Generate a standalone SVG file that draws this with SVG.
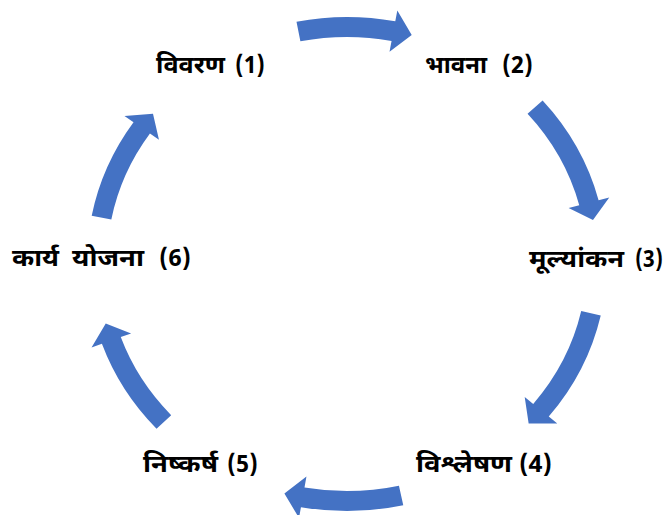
<svg xmlns="http://www.w3.org/2000/svg" width="667" height="515" viewBox="0 0 667 515">
<style>
.arr{fill:#4472C4;stroke:none}
.lbl{font-family:"Noto Sans Devanagari","Noto Sans","Liberation Sans",sans-serif;font-weight:bold;font-size:24px;fill:#000}
</style>
<rect width="667" height="515" fill="#fff"/>
<g id="connectors">
<path class="arr" d="M296.50,21.66 A260,245 0 0 1 395.27,21.26 L397.32,10.45 L411.71,35.01 L389.52,51.72 L391.56,40.91 A240,225 0 0 0 300.38,41.28 Z"/>
<path class="arr" d="M542.60,100.59 A260,245 0 0 1 598.60,200.24 L609.25,197.47 L592.97,219.98 L568.61,208.06 L579.25,205.28 A240,225 0 0 0 527.55,113.77 Z"/>
<path class="arr" d="M600.74,315.44 A260,245 0 0 1 548.75,416.52 L557.29,423.45 L528.64,423.47 L524.70,396.97 L533.23,403.90 A240,225 0 0 0 581.22,311.08 Z"/>
<path class="arr" d="M403.27,505.19 A260,245 0 0 1 300.96,507.13 L299.01,517.96 L284.40,493.52 L306.45,476.62 L304.50,487.45 A240,225 0 0 0 398.95,485.67 Z"/>
<path class="arr" d="M156.54,428.78 A260,245 0 0 1 101.91,343.78 L91.54,347.46 L105.74,323.61 L131.14,333.44 L120.77,337.11 A240,225 0 0 0 171.19,415.16 Z"/>
<path class="arr" d="M91.69,215.67 A260,245 0 0 1 133.52,122.16 L124.49,115.88 L152.99,113.81 L158.97,139.85 L149.94,133.57 A240,225 0 0 0 111.33,219.45 Z"/>
</g>
<g id="n1"><text class="lbl" y="73"><tspan x="156" textLength="69" lengthAdjust="spacingAndGlyphs">विवरण</tspan><tspan x="235" textLength="30" lengthAdjust="spacingAndGlyphs">(1)</tspan></text></g>
<g id="n2"><text class="lbl" y="73"><tspan x="425" textLength="62" lengthAdjust="spacingAndGlyphs">भावना</tspan><tspan x="502" textLength="31" lengthAdjust="spacingAndGlyphs">(2)</tspan></text></g>
<g id="n3"><text class="lbl" y="267"><tspan x="529" textLength="95" lengthAdjust="spacingAndGlyphs">मूल्यांकन</tspan><tspan x="635" textLength="28" lengthAdjust="spacingAndGlyphs">(3)</tspan></text></g>
<g id="n4"><text class="lbl" y="472"><tspan x="416" textLength="96" lengthAdjust="spacingAndGlyphs">विश्लेषण</tspan><tspan x="519" textLength="33" lengthAdjust="spacingAndGlyphs">(4)</tspan></text></g>
<g id="n5"><text class="lbl" y="472"><tspan x="143" textLength="75" lengthAdjust="spacingAndGlyphs">निष्कर्ष</tspan><tspan x="227" textLength="31" lengthAdjust="spacingAndGlyphs">(5)</tspan></text></g>
<g id="n6"><text class="lbl" y="266"><tspan x="12" textLength="47" lengthAdjust="spacingAndGlyphs">कार्य</tspan><tspan x="72" textLength="72" lengthAdjust="spacingAndGlyphs">योजना</tspan><tspan x="159" textLength="32" lengthAdjust="spacingAndGlyphs">(6)</tspan></text></g>
</svg>
